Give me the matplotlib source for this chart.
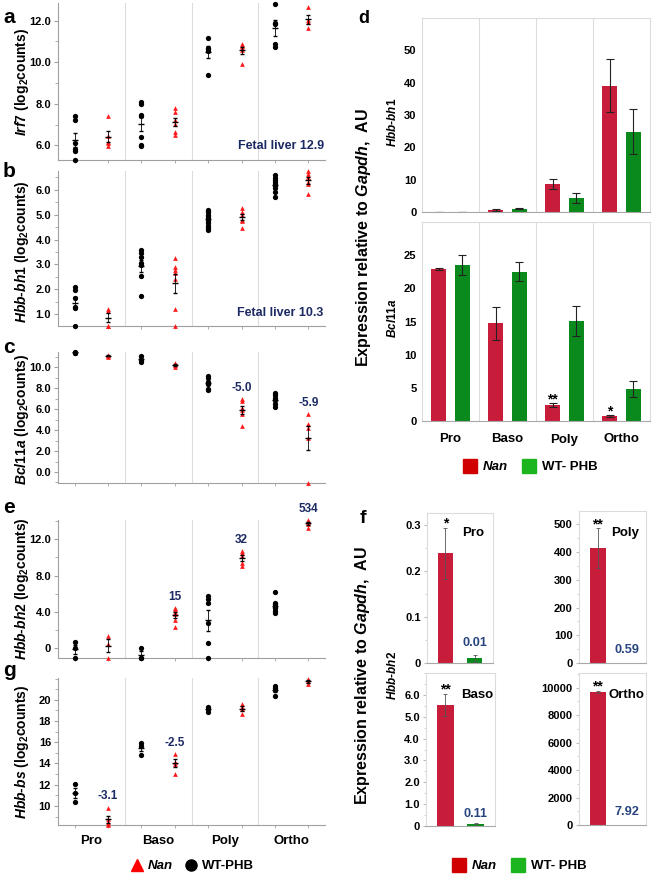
import numpy as np
import matplotlib.pyplot as plt
from matplotlib.lines import Line2D
from matplotlib.ticker import MultipleLocator

plt.rcParams['font.family'] = ['Liberation Sans', 'DejaVu Sans']
plt.rcParams['font.weight'] = 'bold'
plt.rcParams['mathtext.fontset'] = 'custom'
plt.rcParams['mathtext.rm'] = 'Liberation Sans:bold'
plt.rcParams['mathtext.it'] = 'Liberation Sans:italic:bold'
plt.rcParams['mathtext.bf'] = 'Liberation Sans:bold'
plt.rcParams['axes.linewidth'] = 0.8

stages = ['Pro', 'Baso', 'Poly', 'Ortho']

# left column: log2 counts per sample (WT-PHB black, Nan red)
irf7_wt = [[7.4, 7.2, 6.1, 5.85, 5.75, 5.3], [8.1, 8.0, 7.45, 7.4, 6.42, 6.0, 5.95],
           [11.18, 10.7, 10.62, 10.55, 9.39], [12.8, 11.9, 11.85, 10.88, 10.75]]
irf7_nan = [[7.42, 6.45, 6.18, 6.1, 5.95], [7.8, 7.6, 7.2, 7.05, 6.65, 6.5],
            [10.9, 10.8, 10.7, 10.6, 9.9], [12.67, 12.03, 11.92, 11.63]]
bh1_wt = [[2.1, 1.97, 1.64, 1.3, 1.24, 0.55], [3.57, 3.44, 3.28, 3.04, 2.97, 2.53, 1.73],
          [5.2, 5.15, 5.1, 5.0, 4.95, 4.85, 4.75, 4.65, 4.55, 4.45, 4.4],
          [6.57, 6.48, 6.4, 6.3, 6.24, 6.13, 6.08, 5.9, 5.7]]
bh1_nan = [[1.2, 1.13, 0.55, 0.55], [3.24, 2.9, 2.77, 2.64, 2.4, 1.2, 0.55],
           [5.28, 5.1, 4.97, 4.8, 4.75, 4.48], [6.75, 6.64, 6.5, 6.3, 6.24, 5.84]]
bcl_wt = [[11.45, 11.4, 11.38], [11.05, 10.73, 10.48],
          [9.2, 9.0, 8.63, 8.4, 7.94, 7.8], [7.52, 7.3, 7.08, 6.83, 6.5, 6.2]]
bcl_nan = [[11.2, 11.0, 11.05], [10.4, 10.2, 10.05],
           [6.98, 6.76, 6.13, 5.87, 5.5, 4.41], [5.5, 4.6, 4.2, 3.2, -1.05]]
bh2_wt = [[0.73, 0.0, -1.0], [0.0, -1.0, -1.0],
          [5.75, 5.4, 5.0, 2.75, 0.55, -1.0], [6.2, 5.0, 4.84, 4.6, 4.4, 4.1, 3.85]]
bh2_nan = [[1.4, 0.48, -1.0], [4.47, 4.3, 4.0, 3.8, 3.1, 2.36],
           [10.65, 10.47, 10.2, 9.4, 9.0], [14.1, 13.9, 13.7, 13.2]]
bs_wt = [[12.04, 11.2, 10.4], [15.97, 15.66, 14.84], [19.3, 19.12, 18.84], [21.32, 21.1, 20.88, 20.38]]
bs_nan = [[9.84, 8.74, 8.52, 8.3, 8.2], [14.87, 14.18, 13.96, 13.02],
          [19.6, 19.3, 19.12, 18.65], [21.98, 21.73, 21.48]]
fc_bcl = ['', '', '-5.0', '-5.9']
fc_bh2 = ['', '15', '32', '534']
fc_bs = ['-3.1', '-2.5', '', '']

# panel d: qPCR relative to Gapdh
d_bh1_nan = [0.1, 0.6, 8.7, 39.0]
d_bh1_nan_err = [0.05, 0.3, 1.5, 8.2]
d_bh1_wt = [0.1, 1.0, 4.3, 24.8]
d_bh1_wt_err = [0.05, 0.2, 1.5, 7.0]
d_bcl_nan = [22.9, 14.7, 2.4, 0.75]
d_bcl_nan_err = [0.1, 2.45, 0.3, 0.1]
d_bcl_wt = [23.5, 22.5, 15.1, 4.8]
d_bcl_wt_err = [1.55, 1.4, 2.3, 1.2]
d_bcl_stars = ['', '', '**', '*']

# panel f: Hbb-bh2 (Pro, Baso, Poly, Ortho)
f_nan = [0.238, 5.55, 413, 9680]
f_nan_err = [0.055, 0.5, 72, 100]
f_wt = [0.01, 0.11, 0.59, 7.92]
f_wt_err = [0.008, 0.03, 0.2, 1.0]
f_wt_labels = ['0.01', '0.11', '0.59', '7.92']
f_stars = ['*', '**', '**', '**']

NAVY = '#1c2a63'
BLUE = '#28457f'
RED = '#c81d3a'
GREEN = '#0a8a1c'
TRI = '#ff1a1a'

W, H = 660, 877
fig = plt.figure(figsize=(W / 100, H / 100), dpi=100)


def px_axes(x0, y0, x1, y1):
    return fig.add_axes([x0 / W, 1 - y1 / H, (x1 - x0) / W, (y1 - y0) / H])


def px_text(x, y, s, **kw):
    fig.text(x / W, 1 - y / H, s, **kw)


def scatter_panel(ax, wt, nan, ylim, ticks, ticklabels, minor, fc=None):
    for i in range(4):
        groups = ((wt[i], i + 0.25, 'o', 'black', 3.8), (nan[i], i + 0.75, '^', TRI, 3.4))
        for vals, x, mk, col, ms in groups:
            v = np.asarray(vals)
            ax.plot(np.full(len(v), x), v, mk, color=col, ms=ms, mec='none', clip_on=False, zorder=3)
            m = v.mean()
            s = v.std(ddof=1) / np.sqrt(len(v))
            ax.errorbar(x, m, yerr=s, fmt='_', color='black', ms=4, mew=1, elinewidth=0.6,
                        capsize=1.5, capthick=0.6, zorder=4)
        if fc and fc[i]:
            ax.annotate(fc[i], (i + 0.75, max(nan[i])), xytext=(0, 8), textcoords='offset points',
                        ha='center', va='center', color=NAVY, fontsize=8.5, annotation_clip=False)
    for b in (1, 2, 3):
        ax.axvline(b, color='#dddddd', lw=0.8, zorder=0)
    ax.set_xlim(0, 4)
    ax.set_ylim(*ylim)
    ax.set_yticks(ticks)
    ax.set_yticklabels(ticklabels)
    ax.yaxis.set_minor_locator(MultipleLocator(minor))
    ax.set_xticks([i + 0.5 for i in range(4)])
    ax.set_xticklabels([''] * 4)
    ax.set_xticks([i + d for i in range(4) for d in (0.25, 0.75)], minor=True)
    ax.tick_params(axis='x', which='major', length=0)
    ax.tick_params(axis='x', which='minor', length=2.5, color='#a0a0a0')
    ax.tick_params(axis='y', which='major', length=3, color='#a0a0a0', labelsize=8, pad=2)
    ax.tick_params(axis='y', which='minor', length=2, color='#a0a0a0')
    for sp in ('top', 'right'):
        ax.spines[sp].set_visible(False)
    for sp in ('left', 'bottom'):
        ax.spines[sp].set_color('#a0a0a0')


LX0, LX1 = 58, 325
ax_a = px_axes(LX0, 3, LX1, 160)
scatter_panel(ax_a, irf7_wt, irf7_nan, (5.3, 12.85), [6, 8, 10, 12], ['6.0', '8.0', '10.0', '12.0'], 1)
ax_a.text(0.995, 0.09, 'Fetal liver 12.9', transform=ax_a.transAxes, ha='right', va='center',
          color=NAVY, fontsize=9)
ax_b = px_axes(LX0, 171, LX1, 326)
scatter_panel(ax_b, bh1_wt, bh1_nan, (0.53, 6.75), [1, 2, 3, 4, 5, 6],
              ['1.0', '2.0', '3.0', '4.0', '5.0', '6.0'], 0.5)
ax_b.text(0.995, 0.082, 'Fetal liver 10.3', transform=ax_b.transAxes, ha='right', va='center',
          color=NAVY, fontsize=9)
ax_c = px_axes(LX0, 352, LX1, 483)
scatter_panel(ax_c, bcl_wt, bcl_nan, (-1.05, 11.45), [0, 2, 4, 6, 8, 10],
              ['0.0', '2.0', '4.0', '6.0', '8.0', '10.0'], 1, fc_bcl)
ax_e = px_axes(LX0, 520, LX1, 658)
scatter_panel(ax_e, bh2_wt, bh2_nan, (-1.05, 14.1), [0, 4, 8, 12], ['0', '4.0', '8.0', '12.0'], 2, fc_bh2)
ax_g = px_axes(LX0, 678, LX1, 825)
scatter_panel(ax_g, bs_wt, bs_nan, (8.2, 22.05), [10, 12, 14, 16, 18, 20],
              ['10', '12', '14', '16', '18', '20'], 1, fc_bs)
ax_g.set_xticklabels(stages, fontsize=9.5)
ax_g.tick_params(axis='x', which='major', pad=7)

ylabels = [(r'$\it{Irf7}$ (log$_2$counts)', 82), (r'$\it{Hbb}$-$\it{bh1}$ (log$_2$counts)', 252),
           (r'$\it{Bcl11a}$ (log$_2$counts)', 419), (r'$\it{Hbb}$-$\it{bh2}$ (log$_2$counts)', 589),
           (r'$\it{Hbb}$-$\it{bs}$ (log$_2$counts)', 752)]
for s, yc in ylabels:
    px_text(22, yc, s, rotation=90, ha='center', va='center', fontsize=10)

for s, y in (('a', 23), ('b', 177), ('c', 353), ('e', 513), ('g', 676)):
    px_text(3, y, s, ha='left', va='baseline', fontsize=15)

h_nan = Line2D([], [], ls='none', marker='^', color='#ff0000', ms=9)
h_wt = Line2D([], [], ls='none', marker='o', color='black', ms=8)
leg = fig.legend([h_nan, h_wt], ['Nan', 'WT-PHB'], loc='center', bbox_to_anchor=(193 / W, 1 - 866 / H),
                 ncol=2, frameon=False, fontsize=9.5, handlelength=0.8, handletextpad=0.4,
                 columnspacing=1.0, borderpad=0)
leg.get_texts()[0].set_style('italic')


# ---- right column: bars
def frame(ax):
    for sp in ax.spines.values():
        sp.set_color('#dcdcdc')
    ax.spines['bottom'].set_color('#a8a8a8')


ekw = dict(lw=0.8, capsize=3, capthick=0.8, ecolor='#222222')
x = np.arange(4)
ax_d1 = px_axes(422, 18, 650, 212)
ax_d2 = px_axes(422, 222, 650, 421)
for ax, nan, nerr, wt, werr, ylim, step in (
        (ax_d1, d_bh1_nan, d_bh1_nan_err, d_bh1_wt, d_bh1_wt_err, 60, 10),
        (ax_d2, d_bcl_nan, d_bcl_nan_err, d_bcl_wt, d_bcl_wt_err, 30, 5)):
    ax.bar(x + 0.29, nan, 0.27, yerr=nerr, color=RED, error_kw=ekw)
    ax.bar(x + 0.71, wt, 0.27, yerr=werr, color=GREEN, error_kw=ekw)
    for b in (1, 2, 3):
        ax.axvline(b, color='#dddddd', lw=0.8, zorder=0)
    ax.set_xlim(0, 4)
    ax.set_ylim(0, ylim)
    ax.set_yticks(np.arange(0, ylim, step))
    ax.set_xticks(x + 0.5)
    ax.set_xticklabels([''] * 4)
    ax.tick_params(length=0, labelsize=8, pad=4)
    frame(ax)
for i, s in enumerate(d_bcl_stars):
    if s:
        ax_d2.annotate(s, (i + 0.29, d_bcl_nan[i] + d_bcl_nan_err[i]), xytext=(0, 0),
                       textcoords='offset points', ha='center', va='baseline', fontsize=10)
ax_d2.set_xticklabels(stages, fontsize=9.5)
ax_d2.tick_params(axis='x', pad=9)

px_text(393, 122, r'$\it{Hbb}$-$\it{bh1}$', rotation=90, ha='center', va='center', fontsize=8.5)
px_text(393, 318, r'$\it{Bcl11a}$', rotation=90, ha='center', va='center', fontsize=8.5)
px_text(363, 238, r'Expression relative to $\it{Gapdh}$,  AU', rotation=90, ha='center', va='center',
        fontsize=11.5)
px_text(358, 23, 'd', ha='left', va='baseline', fontsize=13)

f_boxes = [(427, 513, 493, 663), (426, 673, 495, 826), (579, 511, 646, 663), (579, 673, 646, 825)]
f_ylims = [0.325, 7.0, 548, 11070]
f_ticks = [[0, 0.1, 0.2, 0.3], [0, 1, 2, 3, 4, 5, 6], [0, 100, 200, 300, 400, 500],
           [0, 2000, 4000, 6000, 8000, 10000]]
f_ticklabels = [['0', '0.1', '0.2', '0.3'], ['0', '1.0', '2.0', '3.0', '4.0', '5.0', '6.0'],
                ['0', '100', '200', '300', '400', '500'], ['0', '2000', '4000', '6000', '8000', '10000']]
f_minor = [0.05, 0.5, 50, 1000]
f_name_pos = [(0.70, 0.867), (0.735, 0.855), (0.69, 0.856), (0.71, 0.854)]
f_wt_y = [0.135, 0.076, 0.087, 0.087]
fekw = dict(lw=0.6, capsize=1.5, capthick=0.6, ecolor='#555555')
for k in range(4):
    ax = px_axes(*f_boxes[k])
    ax.bar(0.28, f_nan[k], 0.24, yerr=f_nan_err[k], color=RED, error_kw=fekw)
    ax.bar(0.72, f_wt[k], 0.24, yerr=f_wt_err[k], color=GREEN, error_kw=fekw)
    ax.set_xlim(0, 1)
    ax.set_ylim(0, f_ylims[k])
    ax.set_yticks(f_ticks[k])
    ax.set_yticklabels(f_ticklabels[k])
    ax.yaxis.set_minor_locator(MultipleLocator(f_minor[k]))
    ax.set_xticks([])
    ax.tick_params(axis='y', which='major', length=2.5, color='#bbbbbb', labelsize=8, pad=2)
    ax.tick_params(axis='y', which='minor', length=1.5, color='#cccccc')
    frame(ax)
    ax.annotate(f_stars[k], (0.28, f_nan[k] + f_nan_err[k]), xytext=(0, 0), textcoords='offset points',
                ha='center', va='baseline', fontsize=10, annotation_clip=False)
    ax.text(*f_name_pos[k], stages[k], transform=ax.transAxes, ha='center', va='center', fontsize=9.5)
    ax.text(0.72, f_wt_y[k], f_wt_labels[k], transform=ax.transAxes, ha='center', va='center',
            color=BLUE, fontsize=9.2)

px_text(392, 675, r'$\it{Hbb}$-$\it{bh2}$', rotation=90, ha='center', va='center', fontsize=8.5)
px_text(362, 676, r'Expression relative to $\it{Gapdh}$,  AU', rotation=90, ha='center', va='center',
        fontsize=11.5)
px_text(360, 523, 'f', ha='left', va='baseline', fontsize=14)

h_r = Line2D([], [], ls='none', marker='s', color='#d00000', ms=10)
h_g = Line2D([], [], ls='none', marker='s', color='#1db51d', ms=10)
for xc, yc in ((531, 467), (520, 866)):
    lg = fig.legend([h_r, h_g], ['Nan', 'WT- PHB'], loc='center', bbox_to_anchor=(xc / W, 1 - yc / H),
                    ncol=2, frameon=False, fontsize=9.5, handlelength=0.8, handletextpad=0.6,
                    columnspacing=1.2, borderpad=0)
    lg.get_texts()[0].set_style('italic')

fig.savefig('out.png', dpi=100)
